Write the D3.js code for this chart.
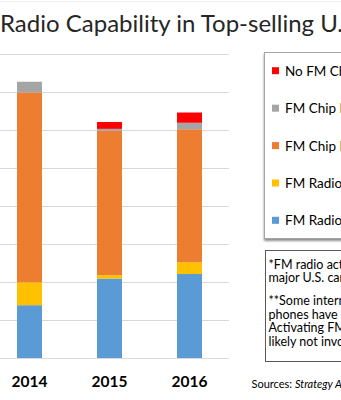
<!DOCTYPE html>
<html>
<head>
<meta charset="utf-8">
<script src="https://cdn.jsdelivr.net/npm/d3@7"></script>
<style>
  html, body { margin: 0; padding: 0; background: #fff; }
  svg { display: block; }
  text { font-family: Lato, "Open Sans", sans-serif; }
</style>
</head>
<body>
<script>
// Phone counts by radio capability, per year
const years = ["2014", "2015", "2016"];
const fmActivated      = [13.9, 20.9, 22.1];
const fmSomeCarriers   = [6.0, 0.9, 3.1];
const chipNotActivated = [50.0, 38.0, 35.0];
const chipUnknown      = [2.8, 0.5, 1.7];
const noChip           = [0, 1.8, 2.7];
const yTicks = [0, 10, 20, 30, 40, 50, 60, 70, 80];

const seriesNames = [
  "FM Radio Activated by All Carriers",
  "FM Radio Activated by Some Carriers*",
  "FM Chip Included, Not Activated**",
  "FM Chip Included, Status Unknown",
  "No FM Chip"
];
const seriesColors = ["#5b9bd5", "#ffc000", "#ed7d31", "#a5a5a5", "#ff0000"];
const seriesValues = [fmActivated, fmSomeCarriers, chipNotActivated, chipUnknown, noChip];

const noteLines1 = ["*FM radio activated by", "major U.S. carriers"];
const noteLines2 = ["**Some internal chips", "phones have not", "Activating FM", "likely not involve"];

const W = 341, H = 400;
const svg = d3.select("body").append("svg").attr("width", W).attr("height", H);
svg.append("rect").attr("width", W).attr("height", H).attr("fill", "#fff");

// faint slide edge at the very top
svg.append("line").attr("x1", 0).attr("x2", W).attr("y1", 1.5).attr("y2", 1.5)
  .attr("stroke", "#efefef").attr("stroke-width", 1);

// Title
svg.append("text").attr("x", 0).attr("y", 31.5)
  .attr("font-size", 24).attr("fill", "#262626")
  .text("Radio Capability in Top-selling U.S.");

// Scales
const x = d3.scaleBand().domain(years)
  .range([-10.5, 229.5]).paddingInner(0.6875).paddingOuter(0.34375);
const y = d3.scaleLinear().domain([0, 80]).range([358, 54]);

// Gridlines
svg.append("g").selectAll("line").data(yTicks).join("line")
  .attr("x1", 0).attr("x2", 229)
  .attr("y1", d => Math.round(y(d)) + 0.5).attr("y2", d => Math.round(y(d)) + 0.5)
  .attr("stroke", "#d9d9d9").attr("stroke-width", 1);

// Stacked bars
const rows = years.map((yr, i) => {
  const r = { year: yr };
  seriesNames.forEach((s, k) => r[s] = seriesValues[k][i]);
  return r;
});
const stack = d3.stack().keys(seriesNames)(rows);
svg.append("g").selectAll("g").data(stack).join("g")
  .attr("fill", (d, k) => seriesColors[k])
  .selectAll("rect").data(d => d).join("rect")
  .attr("x", d => x(d.data.year))
  .attr("width", x.bandwidth())
  .attr("y", d => y(d[1]))
  .attr("height", d => Math.max(0, y(d[0]) - y(d[1])));

// Category labels
svg.append("g").selectAll("text").data(years).join("text")
  .attr("x", d => x(d) + x.bandwidth() / 2)
  .attr("y", 386.5)
  .attr("text-anchor", "middle")
  .attr("font-size", 15.5).attr("font-weight", "bold").attr("fill", "#000")
  .text(d => d);

// Legend box with soft shadow
const defs = svg.append("defs");
const f = defs.append("filter").attr("id", "shadow").attr("x", "-10%").attr("y", "-10%")
  .attr("width", "130%").attr("height", "130%");
f.append("feGaussianBlur").attr("in", "SourceAlpha").attr("stdDeviation", 1.2);
f.append("feOffset").attr("dx", 0).attr("dy", 1.5).attr("result", "b");
f.append("feComponentTransfer").append("feFuncA").attr("type", "linear").attr("slope", 0.45);
const fm = f.append("feMerge");
fm.append("feMergeNode");
fm.append("feMergeNode").attr("in", "SourceGraphic");

svg.append("rect").attr("x", 264.5).attr("y", 52.5).attr("width", 120).attr("height", 186)
  .attr("fill", "#fff").attr("stroke", "#a6a6a6").attr("stroke-width", 1)
  .attr("filter", "url(#shadow)");

// Legend entries: short visible labels (the box runs past the frame edge)
const legendLabels = ["No FM Chip", "FM Chip Inc", "FM Chip Inc", "FM Radio", "FM Radio"];
const legendOrder = [4, 3, 2, 1, 0];
const legendY = [70.7, 108.2, 145.6, 183, 220.3];
const lg = svg.append("g").selectAll("g").data(legendOrder).join("g")
  .attr("transform", (k, i) => `translate(272,${legendY[i]})`);
lg.append("rect").attr("x", 0).attr("y", -3.5).attr("width", 7).attr("height", 7)
  .attr("fill", k => seriesColors[k]);
lg.append("text").attr("x", 13).attr("y", 5)
  .attr("font-size", 13.5).attr("fill", "#000")
  .text((k, i) => legendLabels[i]);

// Notes box
svg.append("rect").attr("x", 265.5).attr("y", 250.5).attr("width", 120).attr("height", 111)
  .attr("fill", "#fff").attr("stroke", "#595959").attr("stroke-width", 1);
const notes = svg.append("g").attr("font-size", 12.5).attr("fill", "#000");
notes.selectAll("text.n1").data(noteLines1).join("text").attr("class", "n1")
  .attr("x", 268.5).attr("y", (d, i) => 268.5 + i * 13.5).text(d => d);
notes.selectAll("text.n2").data(noteLines2).join("text").attr("class", "n2")
  .attr("x", 268.5).attr("y", (d, i) => 305 + i * 13.5).text(d => d);

// Sources line
const src = svg.append("text").attr("x", 251.5).attr("y", 388)
  .attr("font-size", 11).attr("fill", "#000");
src.append("tspan").text("Sources: ");
src.append("tspan").attr("font-style", "italic").text("Strategy Analytics");
</script>
</body>
</html>
